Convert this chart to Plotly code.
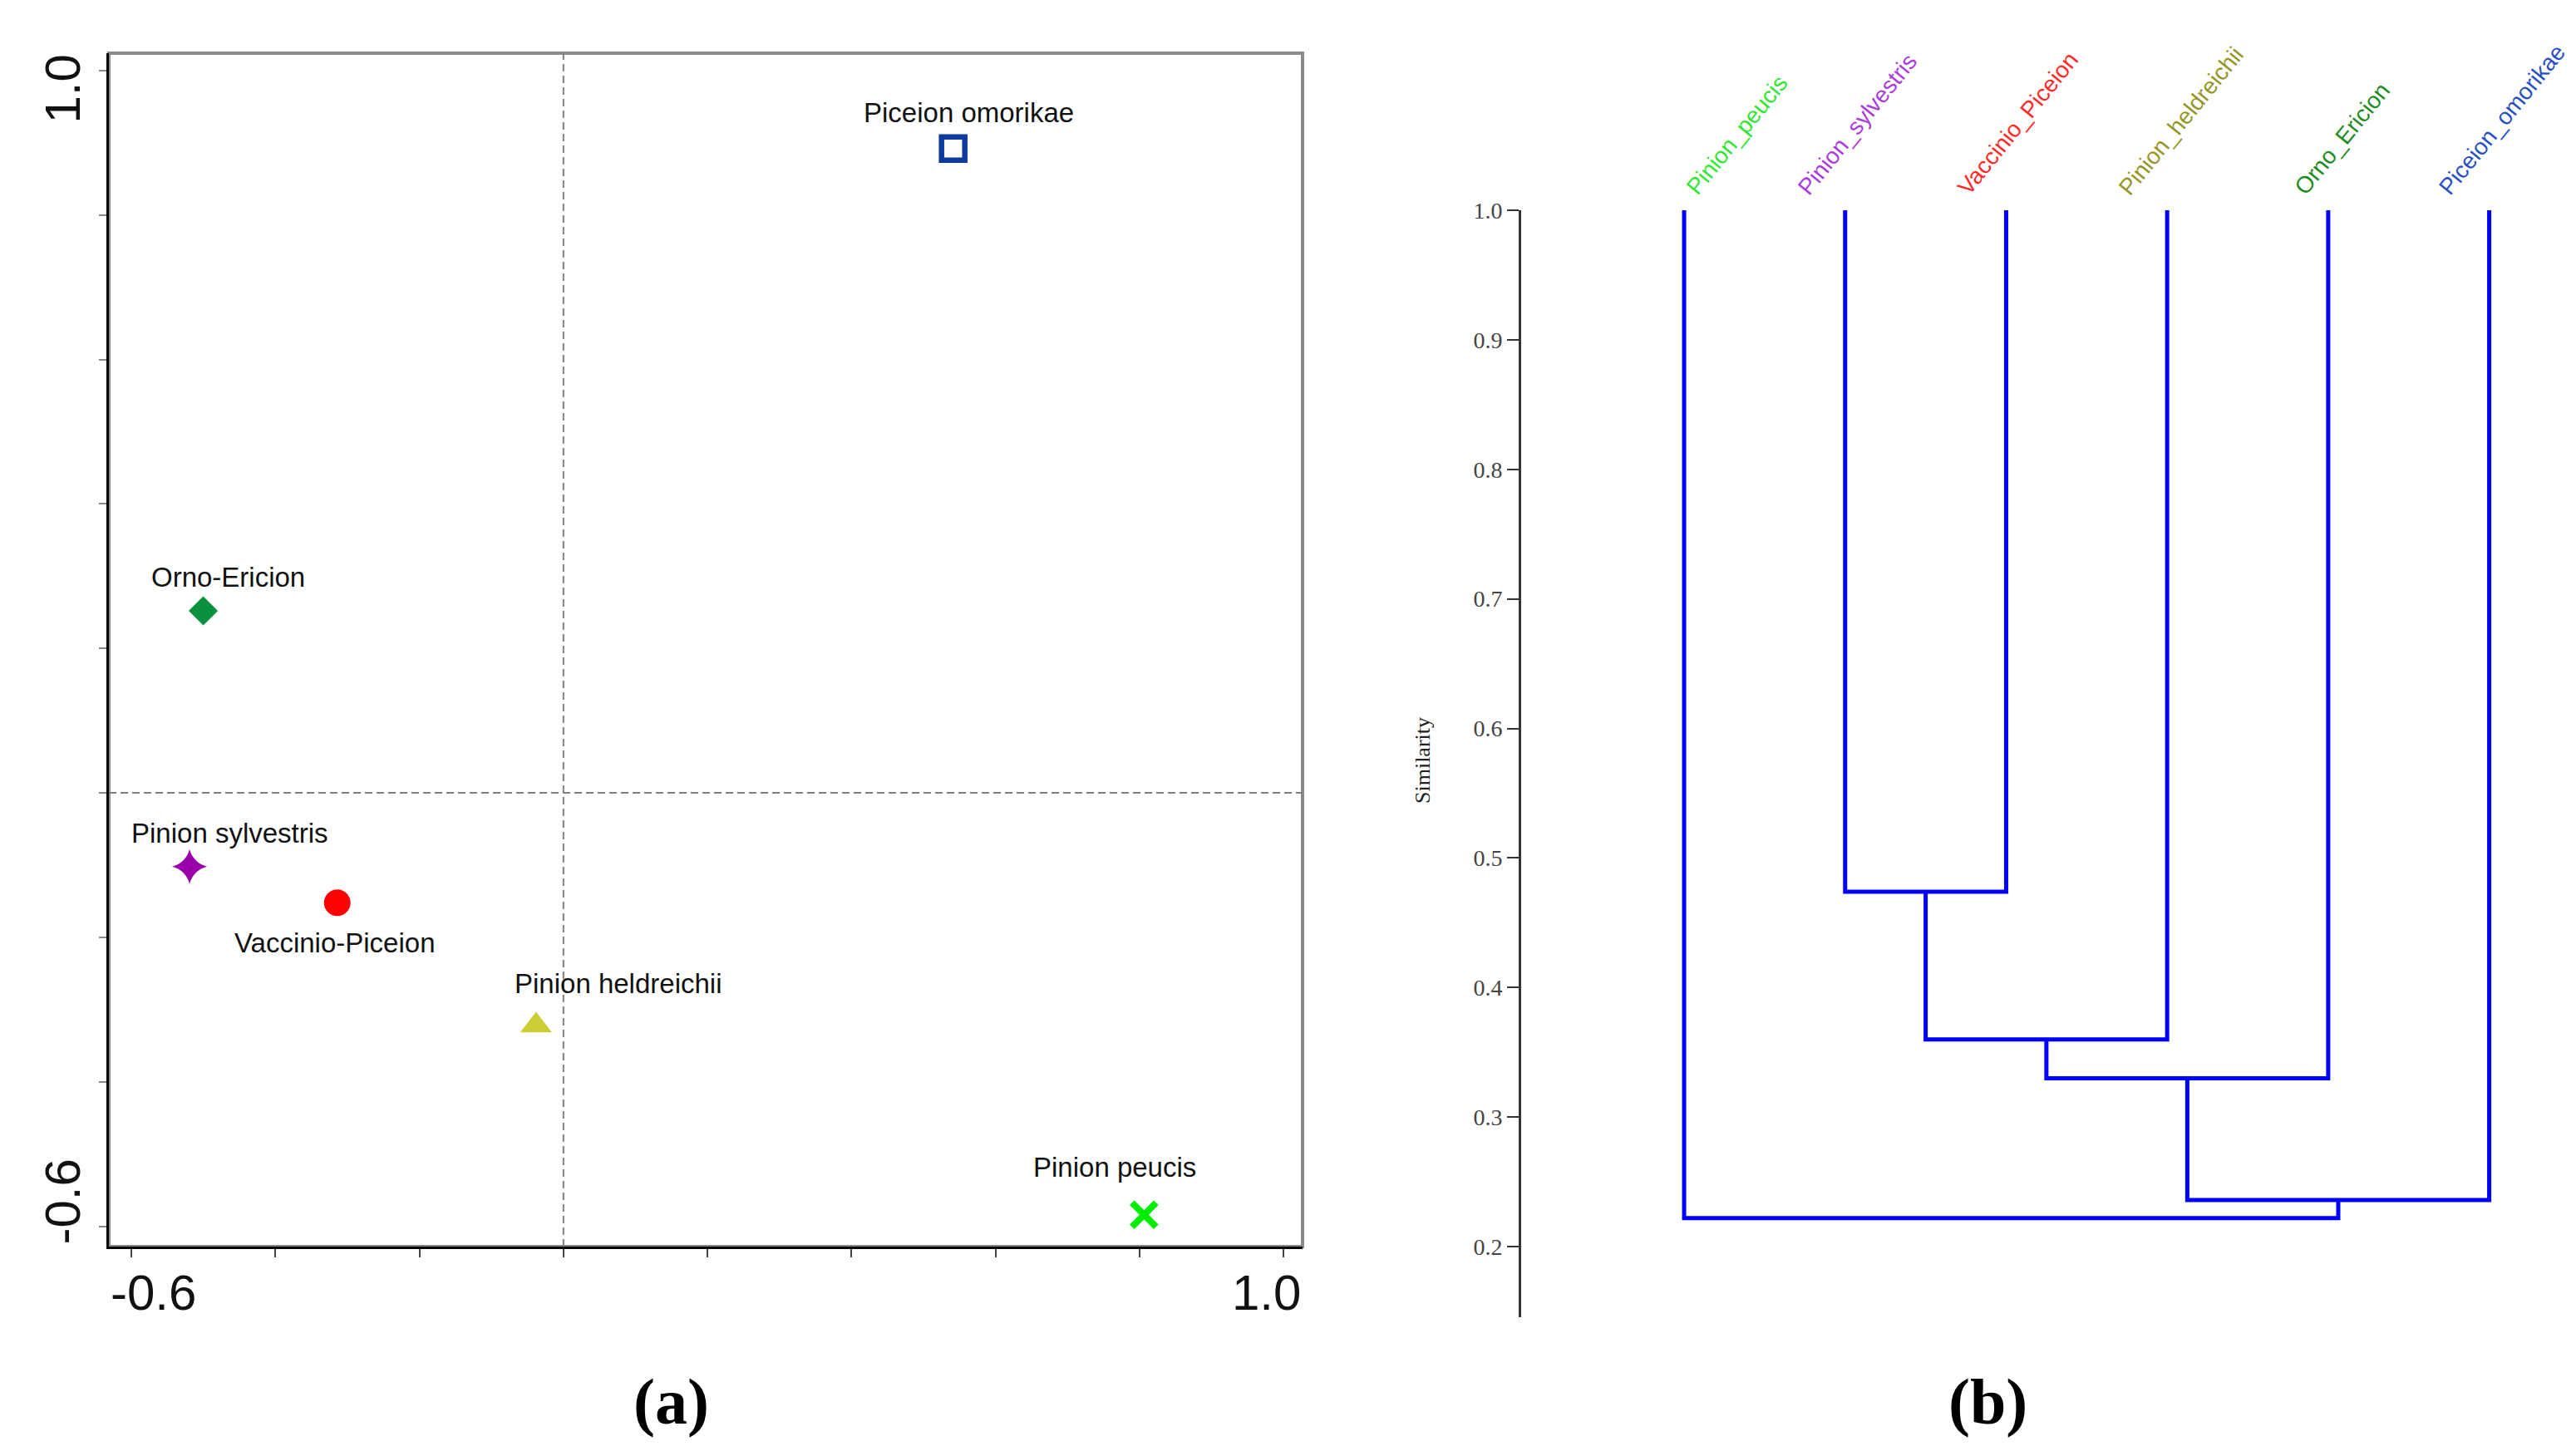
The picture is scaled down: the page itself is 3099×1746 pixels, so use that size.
import plotly.graph_objects as go

# ---------------- data: panel (a) ordination ----------------
site_names = ["Piceion omorikae", "Orno-Ericion", "Pinion sylvestris",
              "Vaccinio-Piceion", "Pinion heldreichii", "Pinion peucis"]
axis1 = [0.541, -0.500, -0.519, -0.314, -0.038, 0.806]
axis2 = [0.892, 0.252, -0.102, -0.152, -0.322, -0.584]
ord_ticks = [-0.6, -0.4, -0.2, 0.0, 0.2, 0.4, 0.6, 0.8, 1.0]

# ---------------- data: panel (b) dendrogram ----------------
leaves = ["Pinion_peucis", "Pinion_sylvestris", "Vaccinio_Piceion",
          "Pinion_heldreichii", "Orno_Ericion", "Piceion_omorikae"]
# merges: (left member, right member, similarity); "mK" = result of merge K
merge_left = ["Pinion_sylvestris", "m1", "m2", "m3", "Pinion_peucis"]
merge_right = ["Vaccinio_Piceion", "Pinion_heldreichii", "Orno_Ericion", "Piceion_omorikae", "m4"]
merge_sim = [0.474, 0.360, 0.330, 0.236, 0.222]
sim_ticks = [0.2, 0.3, 0.4, 0.5, 0.6, 0.7, 0.8, 0.9, 1.0]

# ---------------- styles ----------------
W, H = 3099, 1746
sym = ["square-open", "diamond", "star-diamond", "circle", "triangle-up", "x-thin"]
col = ["#0D3A9E", "#0A9140", "#9900AA", "#FF0000", "#CCCC33", "#00EE00"]
msize = [28, 27, 30, 32, 33, 29]
mline = [6.5, 0, 0, 0, 0, 8]
lab_shift = [(19, 43), (30, 41), (48, 40), (-3, -48), (99, 51), (-35, 57)]
leaf_col = ["#33E633", "#AA3CDC", "#FF2828", "#969628", "#1E8C1E", "#2850BE"]
leaf_xshift = [-6, -66, -67, -67, -50, -69]

fig = go.Figure()

# ordination points
fig.add_trace(go.Scatter(
    x=axis1, y=axis2, mode="markers", xaxis="x", yaxis="y",
    marker=dict(symbol=sym, color=col, size=msize, opacity=1,
                line=dict(width=mline, color=col)),
    cliponaxis=False, hoverinfo="text", text=site_names))

# dendrogram lines
pos = {name: (float(i), 1.0) for i, name in enumerate(leaves)}
dx, dy = [], []
for k, (a, b, s) in enumerate(zip(merge_left, merge_right, merge_sim), start=1):
    xa, ya = pos[a]
    xb, yb = pos[b]
    dx += [xa, xa, xb, xb, None]
    dy += [ya, s, s, yb, None]
    pos["m%d" % k] = ((xa + xb) / 2.0, s)
fig.add_trace(go.Scatter(x=dx, y=dy, mode="lines", xaxis="x2", yaxis="y2",
                         line=dict(color="#0000FF", width=5),
                         cliponaxis=False, hoverinfo="skip"))

ann = []
# point labels
for name, xv, yv, (sx, sy) in zip(site_names, axis1, axis2, lab_shift):
    ann.append(dict(x=xv, y=yv, xref="x", yref="y", text=name, showarrow=False,
                    xshift=sx, yshift=sy, xanchor="center", yanchor="middle",
                    font=dict(family="Liberation Sans, Arial", size=33, color="#111111")))

big = dict(family="Liberation Sans, Arial", size=60, color="#111111")
xr = [-0.631, 1.026]
yr = [-0.628, 1.024]
ann += [
    dict(x=xr[0], y=1 - 1555 / H, xref="x", yref="paper", text="-0.6", showarrow=False,
         xanchor="left", yanchor="middle", font=big),
    dict(x=xr[1], y=1 - 1555 / H, xref="x", yref="paper", text="1.0", showarrow=False,
         xanchor="right", yanchor="middle", font=big),
    dict(x=75 / W, y=yr[1], xref="paper", yref="y", text="1.0", showarrow=False,
         textangle=-90, xanchor="center", yanchor="top", font=big),
    dict(x=75 / W, y=yr[0], xref="paper", yref="y", text="-0.6", showarrow=False,
         textangle=-90, xanchor="center", yanchor="bottom", font=big),
]
# leaf labels
for i, (name, c, xs) in enumerate(zip(leaves, leaf_col, leaf_xshift)):
    ann.append(dict(x=i, y=1.0, xref="x2", yref="y2", text=name, showarrow=False,
                    textangle=-51, xanchor="left", yanchor="bottom", xshift=xs, yshift=10,
                    font=dict(family="Liberation Sans, Arial", size=28, color=c)))
ann.append(dict(x=1711 / W, y=1 - 915 / H, xref="paper", yref="paper", text="Similarity",
                showarrow=False, textangle=-90,
                font=dict(family="Liberation Serif, Times New Roman", size=26, color="#222222")))
for t, xp in (("(a)", 808), ("(b)", 2391)):
    ann.append(dict(x=xp / W, y=1 - 1686 / H, xref="paper", yref="paper", text="<b>%s</b>" % t,
                    showarrow=False, xanchor="center", yanchor="middle",
                    font=dict(family="Liberation Serif, Times New Roman", size=78, color="#000000")))

shapes = [
    dict(type="rect", xref="x domain", yref="y domain", x0=0, x1=1, y0=0, y1=1,
         line=dict(color="#8A8A8A", width=4), layer="below"),
    dict(type="line", xref="x", yref="y domain", x0=0, x1=0, y0=0, y1=1,
         line=dict(color="#808080", width=2, dash="9px,5px"), layer="below"),
    dict(type="line", xref="x domain", yref="y", x0=0, x1=1, y0=0, y1=0,
         line=dict(color="#808080", width=2, dash="9px,5px"), layer="below"),
]

fig.update_layout(
    width=W, height=H, margin=dict(l=0, r=0, t=0, b=0, pad=0, autoexpand=False),
    paper_bgcolor="white", plot_bgcolor="white", showlegend=False,
    xaxis=dict(domain=[131 / W, 1567 / W], range=xr, anchor="y", automargin=False,
               showline=True, linecolor="#000000", linewidth=3,
               ticks="outside", tickvals=ord_ticks, ticklen=10, tickwidth=2, tickcolor="#444444",
               showticklabels=False, showgrid=False, zeroline=False),
    yaxis=dict(domain=[1 - 1500 / H, 1 - 64 / H], range=yr, anchor="x", automargin=False,
               showline=True, linecolor="#000000", linewidth=3,
               ticks="outside", tickvals=ord_ticks, ticklen=9, tickwidth=2, tickcolor="#888888",
               showticklabels=False, showgrid=False, zeroline=False),
    xaxis2=dict(domain=[1830 / W, 1.0], range=[-1.012, 5.539], anchor="y2", visible=False,
                automargin=False),
    yaxis2=dict(domain=[1 - 1585 / H, 1 - 253 / H], range=[0.1455, 1.0], anchor="x2",
                automargin=False,
                showline=True, linecolor="#333333", linewidth=3,
                ticks="outside", tickvals=sim_ticks, tickformat=".1f", ticklen=14, tickwidth=2,
                tickcolor="#333333", showgrid=False, zeroline=False,
                tickfont=dict(family="Liberation Serif, Times New Roman", size=28, color="#444444")),
    annotations=ann, shapes=shapes,
)

fig.write_html("out.html", config={"displayModeBar": False},
               post_script="document.body.style.margin='0';"
                           "document.documentElement.style.overflow='hidden';")
